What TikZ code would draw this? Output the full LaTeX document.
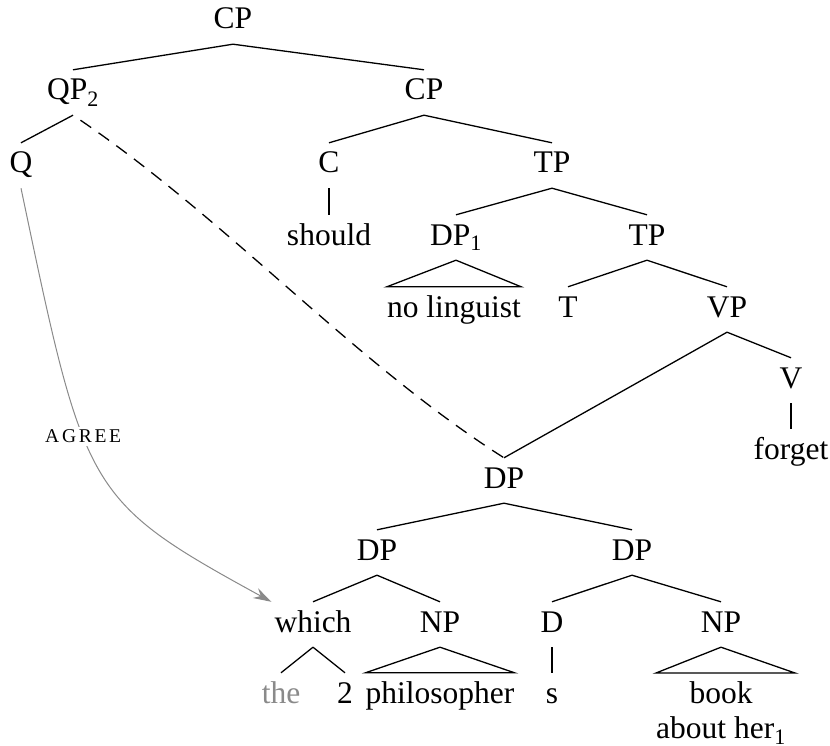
\documentclass[tikz,border=0pt]{standalone}
\usepackage{fontspec}
\setmainfont{Liberation Serif}
\newfontfamily\agreefont[LetterSpace=14]{Liberation Serif}
\usetikzlibrary{arrows.meta}
\definecolor{softgray}{RGB}{138,138,138}
\newcommand{\treesize}{\fontsize{31.5}{38}\selectfont}
\newcommand{\leafsize}{\fontsize{31.5}{35}\selectfont}
\tikzset{
  lab/.style={font=\treesize, anchor=base, text height=21pt, text depth=6pt,
              inner ysep=9pt, inner xsep=3pt},
  leafblock/.style={font=\leafsize, anchor=north, align=center,
              inner sep=0pt},
  branch/.style={line width=1.3pt, black},
  movement/.style={line width=1.3pt, dash pattern=on 13pt off 9pt, dash phase=13pt},
  agreearrow/.style={line width=1pt, softgray,
              -{Stealth[length=18pt,width=11pt,inset=6pt]}}
}
\begin{document}
\begin{tikzpicture}[x=1pt, y=-1pt]
\useasboundingbox (0,0) rectangle (830,746);

% labels, placed by baseline
\node[lab] (CP0) at (233,29) {CP};
\node[lab] (QP) at (73,100) {QP\textsubscript{2}};
\node[lab] (CP1) at (424,100) {CP};
\node[lab] (Q) at (21,173) {Q};
\node[lab] (C) at (329,173) {C};
\node[lab] (TP0) at (552,173) {TP};
\node[lab] (should) at (329,245) {should};
\node[lab] (DP1) at (456,245) {DP\textsubscript{1}};
\node[lab] (TP1) at (647,245) {TP};
\node[lab, inner xsep=0pt] (nol) at (454,317) {no linguist};
\node[lab] (T) at (568,317) {T};
\node[lab] (VP) at (727,317) {VP};
\node[lab] (V) at (791,388) {V};
\node[lab] (forget) at (791,459) {forget};
\node[lab] (DPm) at (504,488) {DP};
\node[lab] (DPl) at (377,560) {DP};
\node[lab] (DPr) at (632,560) {DP};
\node[lab] (which) at (313,632) {which};
\node[lab] (NPl) at (440,632) {NP};
\node[lab] (D) at (552,632) {D};
\node[lab] (NPr) at (721,632) {NP};
\node[lab, text=softgray] (the) at (281,703) {the};
\node[lab] (two) at (345,703) {2};
\node[lab, inner xsep=0pt] (phil) at (440,703) {philosopher};
\node[lab] (s) at (552,703) {s};
\node[leafblock] (book) at (721,681) {book\\about her\textsubscript{1}};

% branches
\draw[branch] (CP0.south) -- (QP.north);
\draw[branch] (CP0.south) -- (CP1.north);
\draw[branch] (QP.south) -- (Q.north);
\draw[branch] (CP1.south) -- (C.north);
\draw[branch] (CP1.south) -- (TP0.north);
\draw[branch] (C.south) -- (should.north);
\draw[branch] (TP0.south) -- (DP1.north);
\draw[branch] (TP0.south) -- (TP1.north);
\draw[branch] (DP1.south) -- (nol.north west) -- (nol.north east) -- cycle;
\draw[branch] (TP1.south) -- (T.north);
\draw[branch] (TP1.south) -- (VP.north);
\draw[branch] (VP.south) -- (V.north);
\draw[branch] (VP.south) -- (DPm.north);
\draw[branch] (V.south) -- (forget.north);
\draw[branch] (DPm.south) -- (DPl.north);
\draw[branch] (DPm.south) -- (DPr.north);
\draw[branch] (DPl.south) -- (which.north);
\draw[branch] (DPl.south) -- (NPl.north);
\draw[branch] (which.south) -- (the.north);
\draw[branch] (which.south) -- (two.north);
\draw[branch] (NPl.south) -- (phil.north west) -- (phil.north east) -- cycle;
\draw[branch] (DPr.south) -- (D.north);
\draw[branch] (DPr.south) -- (NPr.north);
\draw[branch] (D.south) -- (s.north);
\draw[branch] (NPr.south) -- ([yshift=8pt]book.north west)
   -- ([yshift=8pt,xshift=9pt]book.north east) -- cycle;

% movement of the quantifier phrase
\draw[movement] (QP.south) .. controls +(150,100) and +(-150,-95) .. (DPm.north);

% agreement relation
\draw[agreearrow] (Q.south) .. controls +(64,305) and +(-186,-102) .. (which.north west)
  node[pos=0.4, fill=white, inner sep=3pt, text=black, font=\fontsize{19.5}{22}\selectfont\agreefont] {AGREE};
\end{tikzpicture}
\end{document}
